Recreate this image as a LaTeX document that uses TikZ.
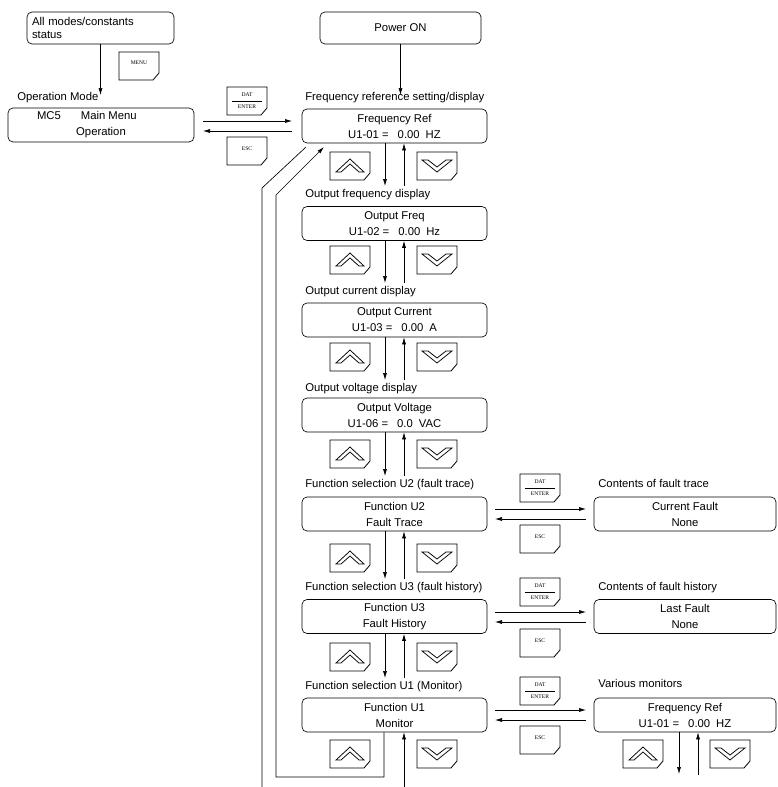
\documentclass[tikz,border=0pt]{standalone}
\usepackage{fontspec}
\setmainfont{Liberation Sans}
\newfontfamily\keyfont{Liberation Serif}
\usetikzlibrary{arrows.meta}
\newcommand\dtxt{\fontsize{11.3}{16}\selectfont}
\newcommand\ktxt{\keyfont\fontsize{5.6}{6}\selectfont}
\tikzset{
  box/.style={draw, rounded corners=5pt, minimum width=185pt, minimum height=34pt,
    align=center, font=\dtxt, inner sep=0pt},
  rbox/.style={box, minimum width=182pt},
  lbl/.style={anchor=west, font=\dtxt, inner sep=0pt},
  arr/.style={-{Latex[length=7pt,width=4pt]}},
  keyframe/.style={line width=0.8pt},
  glyph/.style={line width=0.75pt, line join=miter},
  keyshape/.pic={\draw[keyframe] (0,0) -- (40,0) -- (40,21) -- (34,28) -- (0,28) -- cycle;},
  upkey/.pic={\pic {keyshape};
    \draw[glyph] (6,20) -- (20,7) -- (34,20) -- (29,20) -- (20,12) -- (11,20) -- cycle;
    \coordinate (-c) at (20,14);},
  downkey/.pic={\pic {keyshape};
    \draw[glyph] (5,8) -- (20,20) -- (35,8) -- (29,8) -- (20,15) -- (11,8) -- cycle;
    \coordinate (-c) at (20,14);},
  datkey/.pic={\pic {keyshape};
    \node[font=\ktxt, inner sep=0pt] (-t) at (20,8) {DAT};
    \draw[line width=0.6pt] (5,14) -- (35,14);
    \node[font=\ktxt, inner sep=0pt] (-b) at (20,20) {ENTER};},
  esckey/.pic={\pic {keyshape};
    \node[font=\ktxt, inner sep=0pt] (-t) at (20,12) {ESC};},
  menukey/.pic={\pic {keyshape};
    \node[font=\ktxt, inner sep=0pt] (-t) at (20,11) {MENU};},
}
\begin{document}
\begin{tikzpicture}[x=1pt, y=-1pt, line width=0.65pt]
\useasboundingbox (0,0) rectangle (777,787);

% ---------- top left ----------
\node[box, minimum width=147pt, minimum height=32pt, align=left, text width=137pt,
  font=\fontsize{11.3}{13}\selectfont] (allm) at (100.5,28) {All modes/constants\\status};
\pic (menu) at (119,52) {menukey};
\node[lbl] (lopm) at (17,98) {Operation Mode};
\node[box, minimum width=186pt] (mc5) at (101,125)
  {\makebox[128pt][l]{MC5\hspace{20pt}Main Menu}\\Operation};
\draw[arr] (allm.south) -- (100.5,95);

% ---------- power on ----------
\node[box, minimum width=161pt, minimum height=32pt] (pon) at (400.5,28) {Power ON};
\draw[arr] (pon.south) -- (400.5,95);

% ---------- main column ----------
\node[lbl] (l1) at (305,98) {Frequency reference setting/display};
\node[box] (fref) at (394.5,126) {Frequency Ref\\U1-01 =\hspace{9pt}0.00\hspace{6pt}HZ};
\pic (up1) at (330,152) {upkey};
\pic (dn1) at (417,152) {downkey};

\node[lbl] (l2) at (305,195) {Output frequency display};
\node[box] (ofreq) at (394.5,223.5) {Output Freq\\U1-02 =\hspace{9pt}0.00\hspace{6pt}Hz};
\pic (up2) at (330,246) {upkey};
\pic (dn2) at (417,246) {downkey};

\node[lbl] (l3) at (305,292) {Output current display};
\node[box] (ocur) at (394.5,320) {Output Current\\U1-03 =\hspace{9pt}0.00\hspace{6pt}A};
\pic (up3) at (330,343) {upkey};
\pic (dn3) at (417,343) {downkey};

\node[lbl] (l4) at (305,389) {Output voltage display};
\node[box] (ovolt) at (394.5,415) {Output Voltage\\U1-06 =\hspace{9pt}0.0\hspace{6pt}VAC};
\pic (up4) at (330,440) {upkey};
\pic (dn4) at (417,440) {downkey};

\node[lbl] (l5) at (305,485) {Function selection U2 (fault trace)};
\node[box] (fu2) at (394.5,514) {Function U2\\Fault Trace};
\pic (up5) at (330,544) {upkey};
\pic (dn5) at (417,544) {downkey};

\node[lbl] (l6) at (305,588) {Function selection U3 (fault history)};
\node[box] (fu3) at (394.5,616.5) {Function U3\\Fault History};
\pic (up6) at (330,643) {upkey};
\pic (dn6) at (417,643) {downkey};

\node[lbl] (l7) at (305,687) {Function selection U1 (Monitor)};
\node[box] (fu1) at (394.5,715) {Function U1\\Monitor};
\pic (up7) at (330,740) {upkey};
\pic (dn7) at (417,740) {downkey};

% vertical arrows between rows
\foreach \b/\ly in {fref/195, ofreq/292, ocur/389, ovolt/485, fu2/588, fu3/687}{
  \draw[arr] (385,0 |- \b.south) -- (385,\ly-9);
  \draw[arr] (404,\ly-9) -- (404,0 |- \b.south);
}
\draw[arr] (404,787) -- (404,0 |- fu1.south);

% return loop
\coordinate (lpa) at (306,147);
\coordinate (lpb) at (324,147);
\draw (262,787) -- (262,188) -- (lpa);
\draw[arr] (384,0 |- fu1.south) -- (384,777) -- (276,777) -- (276,195) -- (lpb);

% ---------- top horizontal ----------
\pic (dat0) at (227,87) {datkey};
\pic (esc0) at (227,137) {esckey};
\draw[arr] (203,121) -- (292,121);
\draw[arr] (292,131) -- (203,131);

% ---------- right column ----------
\node[lbl] (r1) at (598,483) {Contents of fault trace};
\node[rbox] (cfault) at (685,514) {Current Fault\\None};
\pic (dat1) at (520,474) {datkey};
\pic (esc1) at (520,525) {esckey};
\draw[arr] (495,509) -- (586,509);
\draw[arr] (586,519) -- (495,519);

\node[lbl] (r2) at (598,588) {Contents of fault history};
\node[rbox] (lfault) at (685,616.5) {Last Fault\\None};
\pic (dat2) at (520,578) {datkey};
\pic (esc2) at (520,629) {esckey};
\draw[arr] (495,612) -- (586,612);
\draw[arr] (586,622) -- (495,622);

\node[lbl] (r3) at (598,683) {Various monitors};
\node[rbox] (rfref) at (685,715) {Frequency Ref\\U1-01 =\hspace{9pt}0.00\hspace{6pt}HZ};
\pic (dat3) at (520,677) {datkey};
\pic (esc3) at (520,726) {esckey};
\draw[arr] (495,710) -- (586,710);
\draw[arr] (586,720) -- (495,720);

\pic (up8) at (623,740) {upkey};
\pic (dn8) at (710,740) {downkey};
\draw[arr] (679,0 |- rfref.south) -- (679,774);
\draw[arr] (698,775) -- (698,0 |- rfref.south);
\end{tikzpicture}
\end{document}
